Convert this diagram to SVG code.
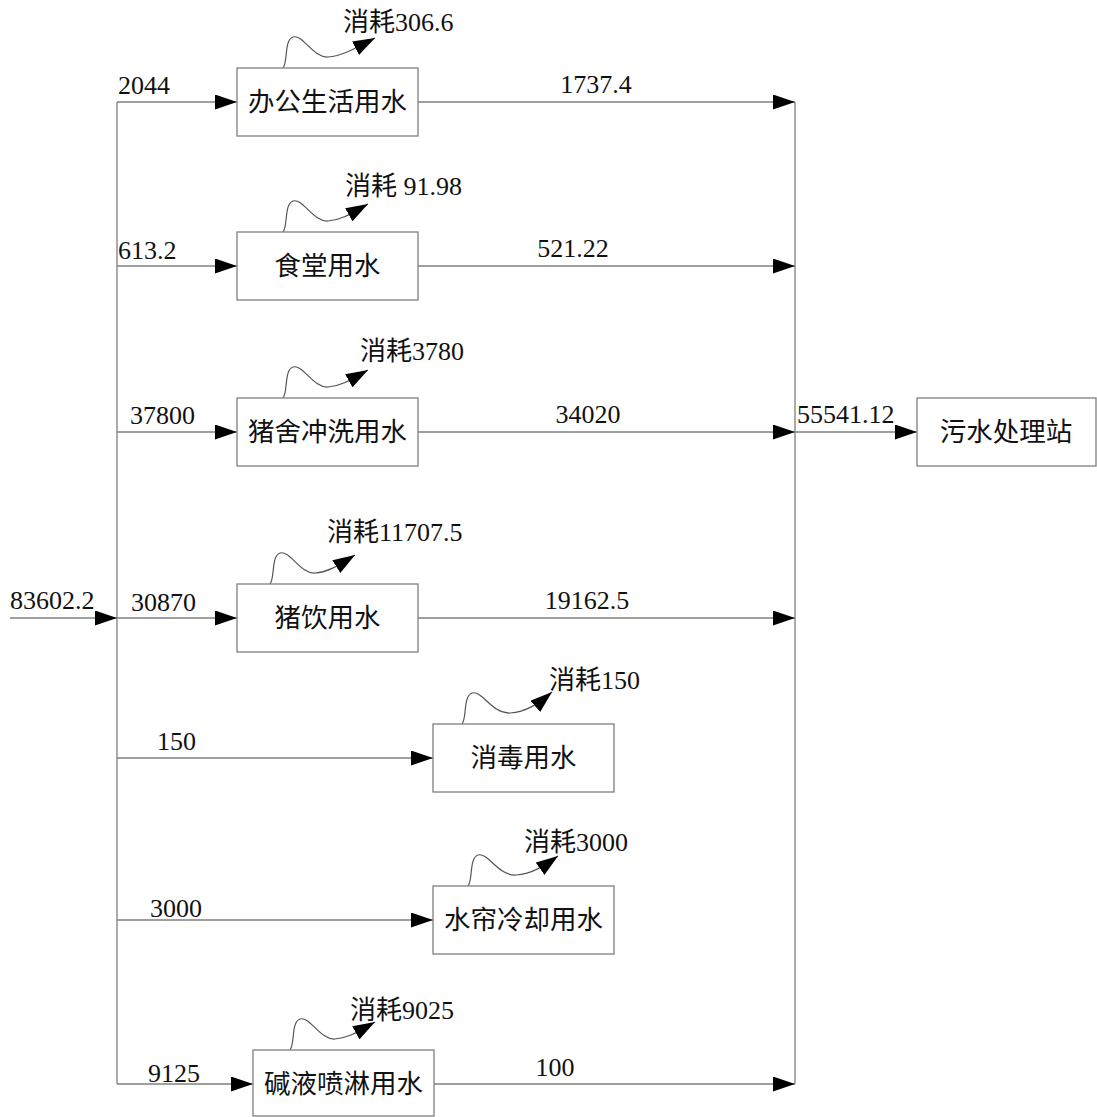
<svg xmlns="http://www.w3.org/2000/svg" width="1097" height="1117" viewBox="0 0 1097 1117">
<style>
.ln{stroke:#7f7f7f;stroke-width:1.3;fill:none}
.ar{marker-end:url(#ah)}
.wv{stroke:#555;stroke-width:1.2;fill:none;marker-end:url(#ah)}
.bx{fill:#fff;stroke:#7f7f7f;stroke-width:1.3}
.t{font-family:"Liberation Serif","Noto Sans CJK SC",serif;font-size:26px;fill:#111}
.c{font-family:"Liberation Serif","Noto Sans CJK SC",serif;font-size:26px;fill:#111;text-anchor:middle}
.b{font-size:26.5px}
</style>
<defs>
<marker id="ah" markerUnits="userSpaceOnUse" markerWidth="23" markerHeight="15" refX="22" refY="7.5" orient="auto"><path d="M0,0 L22,7.5 L0,15 z" fill="#000"/></marker>
</defs>
<rect width="1097" height="1117" fill="#fff"/>
<g id="connectors">
<line class="ln" x1="117" y1="102" x2="117" y2="1084"/>
<line class="ln" x1="795" y1="102" x2="795" y2="1084"/>
<line class="ln ar" x1="10" y1="618" x2="117" y2="618"/>
<line class="ln ar" x1="117" y1="102" x2="237" y2="102"/>
<line class="ln ar" x1="117" y1="266" x2="237" y2="266"/>
<line class="ln ar" x1="117" y1="432" x2="237" y2="432"/>
<line class="ln ar" x1="117" y1="618" x2="237" y2="618"/>
<line class="ln ar" x1="117" y1="758" x2="433" y2="758"/>
<line class="ln ar" x1="117" y1="920" x2="433" y2="920"/>
<line class="ln ar" x1="117" y1="1084" x2="253" y2="1084"/>
<line class="ln ar" x1="418" y1="102" x2="795" y2="102"/>
<line class="ln ar" x1="418" y1="266" x2="795" y2="266"/>
<line class="ln ar" x1="418" y1="432" x2="795" y2="432"/>
<line class="ln ar" x1="418" y1="618" x2="795" y2="618"/>
<line class="ln ar" x1="434" y1="1084" x2="795" y2="1084"/>
<line class="ln ar" x1="795" y1="432" x2="917" y2="432"/>
<path class="wv" d="M283,68 C288,62 284,40 293,37 C303,34 313,58 328,57 C342,56 356,48 375,38"/>
<path class="wv" d="M283,232 C288,226 284,204 293,201 C303,198 313,222 328,221 C342,220 352,213 368,204"/>
<path class="wv" d="M283,398 C288,392 284,370 293,367 C303,364 313,388 328,387 C342,386 352,379 368,370"/>
<path class="wv" d="M270,584 C275,578 271,556 280,553 C290,550 300,574 315,573 C329,572 339,565 355,555"/>
<path class="wv" d="M462,724 C467,718 463,696 472,693 C482,690 492,714 510,713 C526,712 538,704 552,692"/>
<path class="wv" d="M468,886 C473,880 469,858 478,855 C488,852 498,876 516,875 C532,874 544,866 558,856"/>
<path class="wv" d="M290,1050 C295,1044 291,1022 300,1019 C310,1016 320,1040 335,1039 C349,1038 359,1031 375,1022"/>
</g>
<g id="labels">
<text class="t" x="10" y="609">83602.2</text>
<text class="t" x="118" y="94">2044</text>
<text class="t" x="118" y="259">613.2</text>
<text class="t" x="130" y="424">37800</text>
<text class="t" x="131" y="611">30870</text>
<text class="t" x="157" y="750">150</text>
<text class="t" x="150" y="917">3000</text>
<text class="t" x="148" y="1082">9125</text>
<text class="c" x="596" y="93">1737.4</text>
<text class="c" x="573" y="257">521.22</text>
<text class="c" x="588" y="423">34020</text>
<text class="c" x="587" y="609">19162.5</text>
<text class="c" x="555" y="1076">100</text>
<text class="t" x="797" y="423">55541.12</text>
<text class="t" x="343" y="31">消耗306.6</text>
<text class="t" x="345" y="195">消耗 91.98</text>
<text class="t" x="360" y="360">消耗3780</text>
<text class="t" x="327" y="541">消耗11707.5</text>
<text class="t" x="549" y="689">消耗150</text>
<text class="t" x="524" y="851">消耗3000</text>
<text class="t" x="350" y="1019">消耗9025</text>
</g>
<g id="n1"><rect class="bx" x="237" y="68" width="181" height="68"/><text class="c b" x="327.5" y="111">办公生活用水</text></g>
<g id="n2"><rect class="bx" x="237" y="232" width="181" height="68"/><text class="c b" x="327.5" y="275">食堂用水</text></g>
<g id="n3"><rect class="bx" x="237" y="398" width="181" height="68"/><text class="c b" x="327.5" y="441">猪舍冲洗用水</text></g>
<g id="n4"><rect class="bx" x="237" y="584" width="181" height="68"/><text class="c b" x="327.5" y="627">猪饮用水</text></g>
<g id="n5"><rect class="bx" x="433" y="724" width="181" height="68"/><text class="c b" x="523.5" y="767">消毒用水</text></g>
<g id="n6"><rect class="bx" x="433" y="886" width="181" height="68"/><text class="c b" x="523.5" y="929">水帘冷却用水</text></g>
<g id="n7"><rect class="bx" x="253" y="1050" width="181" height="66"/><text class="c b" x="343.5" y="1093">碱液喷淋用水</text></g>
<g id="n8"><rect class="bx" x="917" y="398" width="179" height="68"/><text class="c b" x="1006" y="441">污水处理站</text></g>
</svg>
